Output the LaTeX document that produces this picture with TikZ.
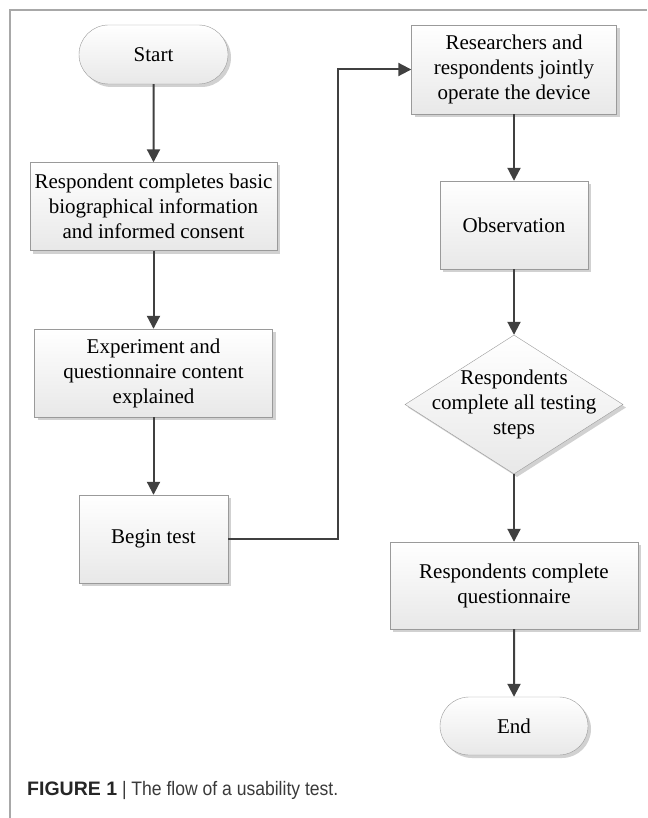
\documentclass[tikz,border=0pt]{standalone}
\usepackage{fontspec}
\setmainfont{Liberation Serif}
\newfontfamily\capfont[FakeStretch=0.9]{Liberation Sans}
\newfontfamily\capbold{Liberation Sans}
\usetikzlibrary{shapes.geometric,shapes.misc,arrows.meta,shadows}
\definecolor{linegray}{HTML}{404040}
\definecolor{boxgray}{HTML}{9A9A9A}
\definecolor{framegray}{HTML}{A8A8A8}
\definecolor{captext}{HTML}{3A3A3A}

\begin{document}
\begin{tikzpicture}[x=1pt, y=-1pt,
basebox/.style={draw=boxgray, thin, top color=white, bottom color=black!9,
  general shadow={fill=black!18, shadow xshift=3pt, shadow yshift=-3pt},
  align=center, inner sep=0pt, font=\fontsize{21}{25}\selectfont},
stepbox/.style={basebox, rectangle, minimum height=88pt},
endnode/.style={basebox, rounded rectangle, minimum width=149pt, minimum height=59pt},
decidenode/.style={basebox, diamond, shape aspect=1.57, inner sep=-12pt, minimum width=218pt, minimum height=139pt},
arrowline/.style={draw=linegray, line width=2pt, -{Triangle[length=13pt, width=13pt]}},
]
\useasboundingbox (0,0) rectangle (647,818);
\draw[framegray, line width=1.5pt] (10,818) -- (10,10) -- (647,10);

\node[endnode]  at(153.5,54.5) (start) {Start};
\node[stepbox, minimum width=247pt] at(153.5,206.5) (biodata) {Respondent completes basic\\biographical information\\and informed consent};
\node[stepbox, minimum width=238pt] at(153.5,373) (explain) {Experiment and\\questionnaire content\\explained};
\node[stepbox, minimum width=149pt] at(153.5,539) (begintest) {Begin test};

\node[stepbox, minimum width=205pt, minimum height=89pt] at(514,69.5) (operate) {Researchers and\\respondents jointly\\operate the device};
\node[stepbox, minimum width=148pt] at(514,225) (observe) {Observation};
\node[decidenode] at(514,404.5) (steps) {Respondents\\complete all testing\\steps};
\node[stepbox, minimum width=248pt, minimum height=87pt] at(514,585.5) (questionnaire) {Respondents complete\\questionnaire};
\node[endnode, minimum width=148pt, minimum height=58pt] at(514,726) (finish) {End};

\coordinate (turn) at (338,300);

\draw[arrowline] (start) -- (biodata);
\draw[arrowline] (biodata) -- (explain);
\draw[arrowline] (explain) -- (begintest);
\draw[arrowline] (begintest.east) -| (turn) |- (operate.west);
\draw[arrowline] (operate) -- (observe);
\draw[arrowline] (observe) -- (steps);
\draw[arrowline] (steps) -- (questionnaire);
\draw[arrowline] (questionnaire) -- (finish);

\node[anchor=base west, inner sep=0pt, font=\fontsize{19.5}{22}\selectfont] at(27,795) (caption)
  {{\capbold\bfseries\color{black!85}FIGURE 1} {\capfont\color{captext}| The flow of a usability test.}};
\end{tikzpicture}
\end{document}
